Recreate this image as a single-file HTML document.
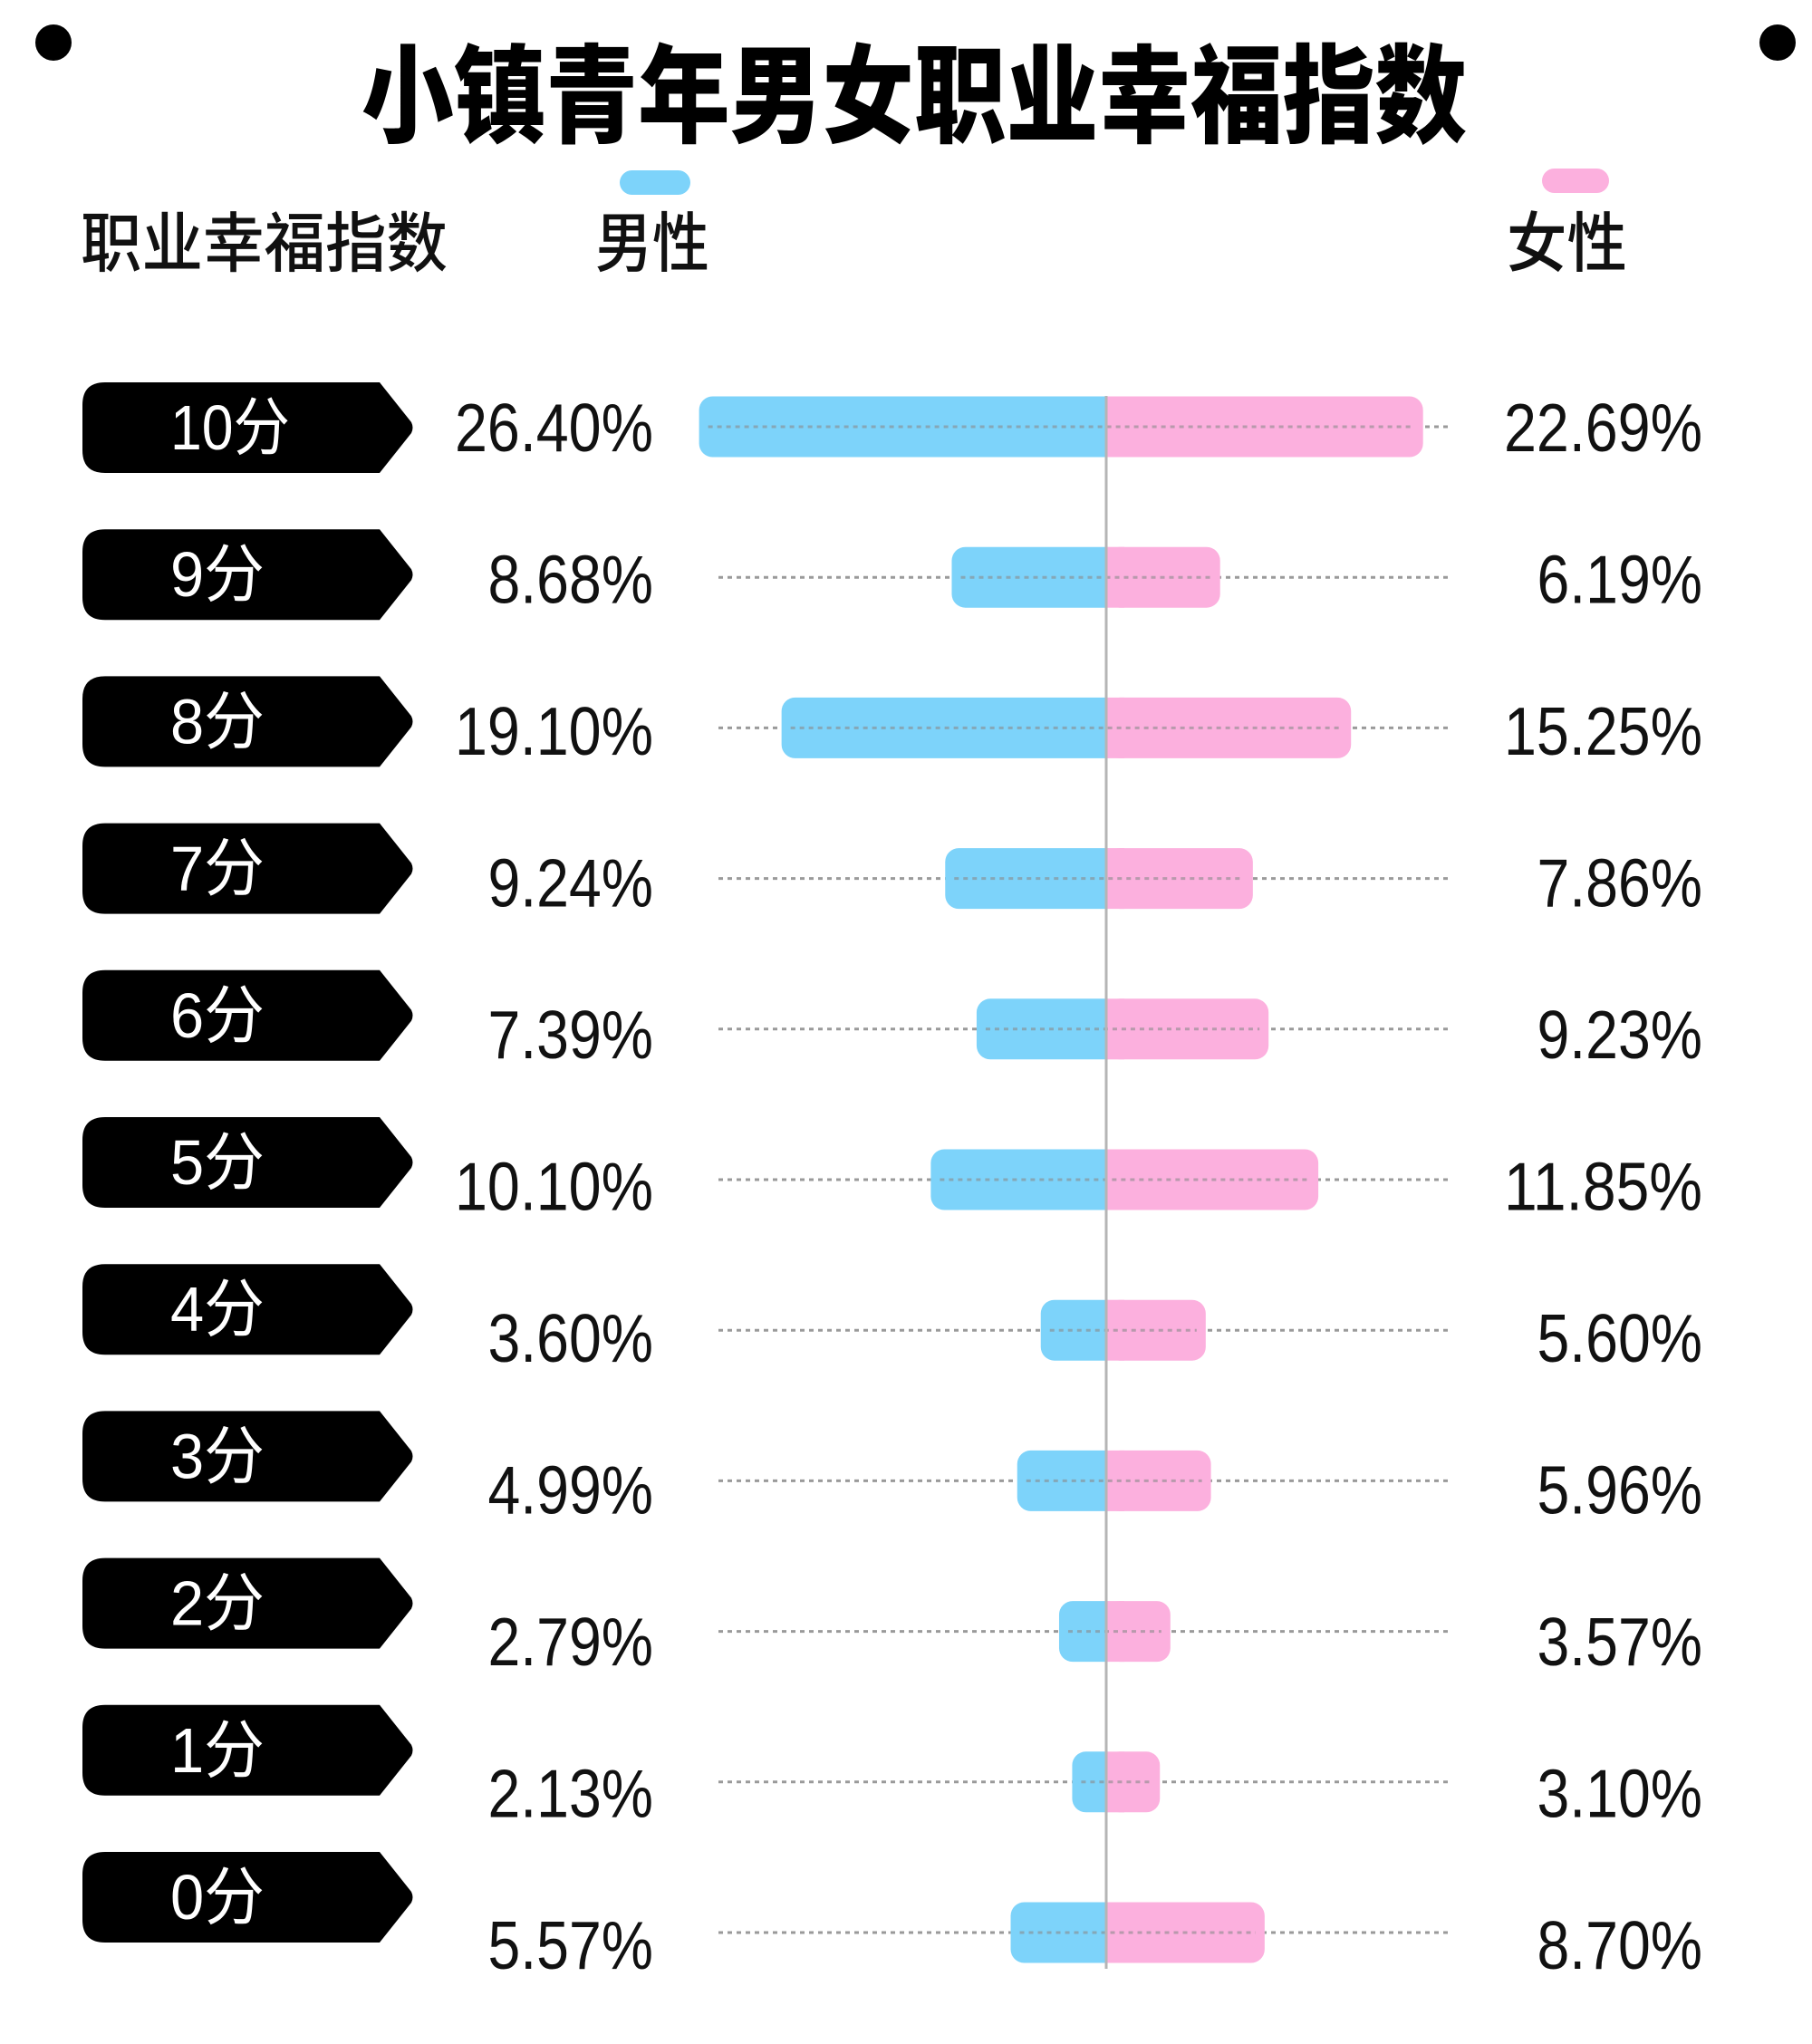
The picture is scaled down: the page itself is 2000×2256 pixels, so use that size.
<!DOCTYPE html>
<html><head><meta charset="utf-8"><style>
html,body{margin:0;padding:0;background:#fff;}
svg{display:block;}
</style></head><body>
<svg width="2000" height="2256" viewBox="0 0 2000 2256" xmlns="http://www.w3.org/2000/svg">
<rect width="2000" height="2256" fill="#fff"/>
<ellipse cx="59" cy="47" rx="20" ry="20" fill="#000"/>
<ellipse cx="1962" cy="47" rx="20" ry="20" fill="#000"/>
<text x="399" y="148" font-family="Noto Sans CJK SC, sans-serif" font-weight="900" font-size="118" textLength="1220" lengthAdjust="spacingAndGlyphs" fill="#000">小镇青年男女职业幸福指数</text>
<text x="89" y="294" font-family="Noto Sans CJK SC, sans-serif" font-weight="500" font-size="72" textLength="405" lengthAdjust="spacingAndGlyphs" fill="#111">职业幸福指数</text>
<text x="657" y="294" font-family="Noto Sans CJK SC, sans-serif" font-weight="500" font-size="72" textLength="126" lengthAdjust="spacingAndGlyphs" fill="#111">男性</text>
<text x="1663" y="294" font-family="Noto Sans CJK SC, sans-serif" font-weight="500" font-size="72" textLength="133" lengthAdjust="spacingAndGlyphs" fill="#111">女性</text>
<rect x="684" y="188" width="78" height="27" rx="13.5" fill="#7dd3fa"/>
<rect x="1702" y="186" width="74" height="27" rx="13.5" fill="#fcb0de"/>
<g id="rows"></g>
<line x1="1221" y1="437" x2="1221" y2="2173" stroke="#b5b5b5" stroke-width="3"/>
</svg>
<script>
var rows=[["10分","26.40%","22.69%",537,1090],["9分","8.68%","6.19%",730,935],["8分","19.10%","15.25%",600,1035],["7分","9.24%","7.86%",725,960],["6分","7.39%","9.23%",749,972],["5分","10.10%","11.85%",714,1010],["4分","3.60%","5.60%",798,924],["3分","4.99%","5.96%",780,928],["2分","2.79%","3.57%",812,897],["1分","2.13%","3.10%",822,889],["0分","5.57%","8.70%",775,969]];
var s="",C=1221;
rows.forEach(function(r,k){
 var by=471+k*166.2, ty=472+k*162.2, tc=by+k*1.3;
 var ml=(848-r[3])*1.445, fl=(r[4]-848)*1.445;
 var t=ty-50,b=ty+50;
 s+='<path d="M116 '+t+' L419 '+t+' L454 '+(ty-6)+' Q457 '+ty+' 454 '+(ty+6)+' L419 '+b+' L116 '+b+' Q91 '+b+' 91 '+(b-25)+' L91 '+(t+25)+' Q91 '+t+' 116 '+t+' Z" fill="#000"/>';
 s+='<text x="188" y="'+(ty+24)+'" font-family="Liberation Sans, Noto Sans CJK SC, sans-serif" font-size="70" fill="#fff" textLength="'+(r[0].length==3?132:104)+'" lengthAdjust="spacingAndGlyphs">'+r[0]+'</text>';
 s+='<line x1="793" y1="'+by+'" x2="1603" y2="'+by+'" stroke="#9a9a9a" stroke-width="3" stroke-dasharray="5 5"/>';
 s+='<rect x="'+(C-ml)+'" y="'+(by-33.5)+'" width="'+(ml+15)+'" height="67" rx="15" fill="#7dd3fa"/>';
 s+='<rect x="'+C+'" y="'+(by-33.5)+'" width="'+fl+'" height="67" rx="15" fill="#fcb0de"/>';
 s+='<rect x="'+C+'" y="'+(by-33.5)+'" width="20" height="67" fill="#fcb0de"/>';
 s+='<line x1="'+(C-ml+10)+'" y1="'+by+'" x2="'+(C+fl-10)+'" y2="'+by+'" stroke="#8a8a8a" stroke-opacity="0.6" stroke-width="3" stroke-dasharray="5 5"/>';
 var w1=r[1].length*36.5, w2=r[2].length*36.5;
 s+='<text x="721" y="'+(tc+27)+'" text-anchor="end" font-family="Liberation Sans, sans-serif" font-size="75" fill="#111" textLength="'+w1+'" lengthAdjust="spacingAndGlyphs">'+r[1]+'</text>';
 s+='<text x="1879" y="'+(tc+27)+'" text-anchor="end" font-family="Liberation Sans, sans-serif" font-size="75" fill="#111" textLength="'+w2+'" lengthAdjust="spacingAndGlyphs">'+r[2]+'</text>';
});
document.getElementById("rows").innerHTML=s;
</script>
</body></html>
